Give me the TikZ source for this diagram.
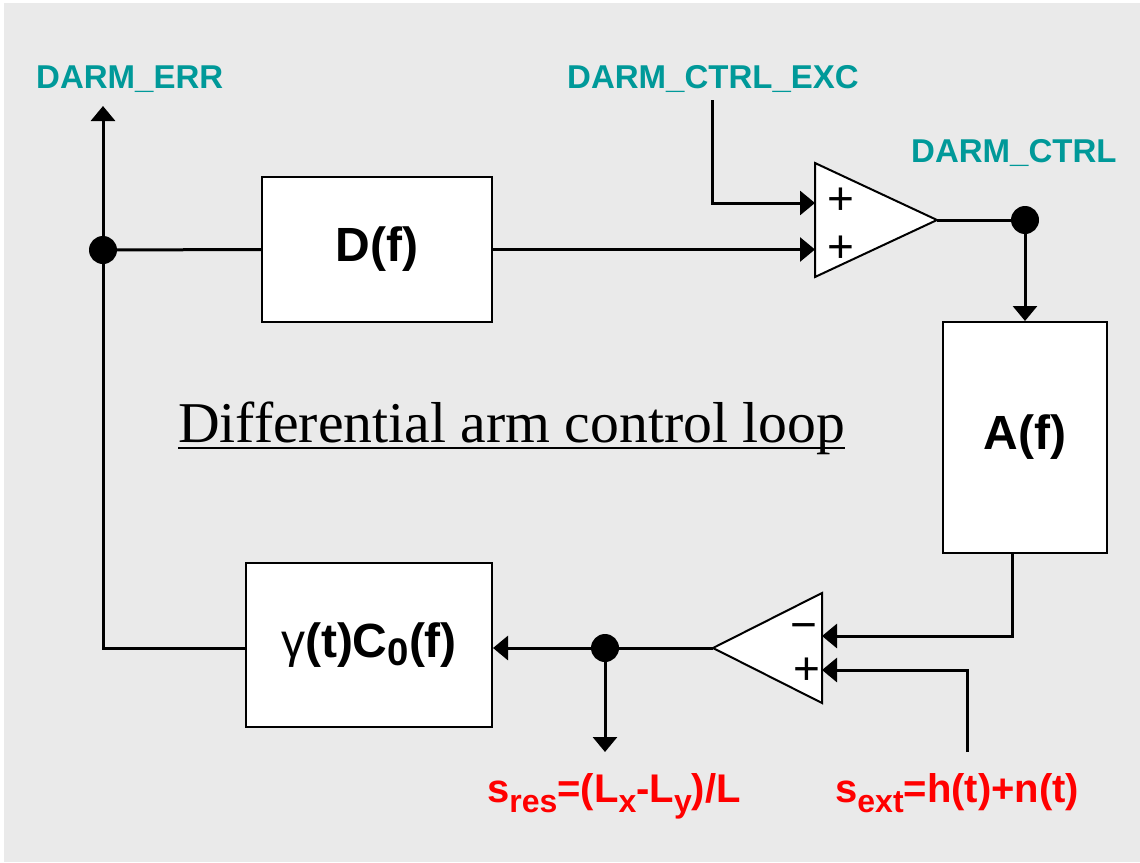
\documentclass[tikz,border=0pt]{standalone}
\usepackage{fontspec}
\usepackage{graphicx}
\setmainfont{Liberation Serif}
\setsansfont{Liberation Sans}
\usetikzlibrary{arrows.meta,shapes.geometric}
\definecolor{darmteal}{RGB}{0,153,153}
\definecolor{bggray}{RGB}{234,234,234}
\newcommand{\lowsub}[2][0.25em]{\raisebox{-#1}{\scalebox{0.8}{#2}}}

\begin{document}
\begin{tikzpicture}[
        x=1pt, y=-1pt,
        block/.style={
            rectangle,
            draw,
            line width=2pt,
            fill=white,
            inner sep=0pt,
            font=\sffamily\bfseries\fontsize{48}{56}\selectfont
        },
        summer/.style={
            isosceles triangle,
            isosceles triangle stretches,
            draw,
            line width=2pt,
            fill=white,
            inner sep=0pt,
            outer sep=0pt
        },
        arrow/.style={
            -{Triangle[length=15pt,width=24pt]},
            line width=3pt
        },
        wire/.style={
            line width=3pt
        },
        dot/.style={circle, fill=black, inner sep=0pt, minimum size=28pt},
        signal/.style={inner sep=0pt, text=darmteal, font=\sffamily\bfseries\fontsize{33}{40}\selectfont},
        strain/.style={inner sep=0pt, text=red, font=\sffamily\bfseries\fontsize{40}{48}\selectfont},
        sign/.style={inner sep=0pt, font=\sffamily\fontsize{46}{52}\selectfont}
    ]

        \useasboundingbox (0,0) rectangle (1140,862);
        \fill[bggray] (4,3) rectangle (1140,862);

        \node[block, minimum width=230pt, minimum height=145pt] (dblk) at (377,249.5) {D(f)};
        \node[block, minimum width=164pt, minimum height=231pt] (ablk) at (1025,437.5) {A(f)};
        \node[block, minimum width=246pt, minimum height=164pt] (cblk) at (369,645) {{\mdseries γ}(t)C\lowsub[0.16em]{0}(f)};

        \node[summer, minimum width=114pt, minimum height=122pt, anchor=apex] (sumtop) at (937,220) {};
        \node[summer, minimum width=110pt, minimum height=109pt, rotate=180, anchor=apex] (sumbot) at (713,648) {};
        \node[sign] (plusa) at (841,201) {+};
        \node[sign] (plusb) at (841,249) {+};
        \node[sign] (minusc) at (804,632) {−};
        \node[sign] (plusd) at (807,671) {+};

        \node[signal, anchor=base west] (errlbl) at (36,88) {DARM\_ERR};
        \node[signal, anchor=base west] (exclbl) at (567,88) {DARM\_CTRL\_EXC};
        \node[signal, anchor=base west] (ctrllbl) at (911,162) {DARM\_CTRL};
        \node[strain, anchor=base west] (reslbl) at (487,802) {s\lowsub{res}=(L\lowsub{x}-L\lowsub{y})/L};
        \node[strain, anchor=base west] (extlbl) at (835,802) {s\lowsub{ext}=h(t)+n(t)};

        \node[inner sep=0pt, anchor=base west, font=\fontsize{57.7}{66}\selectfont] (title) at (178,442) {Differential arm control loop};
        \draw[line width=2.5pt] ([yshift=-6pt]title.base west) -- ([yshift=-6pt]title.base east);

        \node[dot] (errdot) at (103,250) {};
        \node[dot] (ctrldot) at (1025,220) {};
        \node[dot] (resdot) at (605,648) {};
        \coordinate (errend) at (103,106);
        \coordinate (excstart) at (712,100);
        \coordinate (resend) at (605,752);
        \coordinate (extstart) at (967,752);

        \draw[arrow] (errdot.center) -- (errend);
        \draw[wire] (errdot.center) -- (dblk.west);
        \draw[arrow] (dblk.east) -- (dblk.east -| sumtop.lower side);
        \draw[arrow] (excstart) |- ([yshift=17pt]sumtop.lower side);
        \draw[wire] (sumtop.apex) -- (ctrldot.center);
        \draw[arrow] (ctrldot.center) -- (ablk.north);
        \draw[arrow] ([xshift=-13pt]ablk.south) |- ([yshift=12pt]sumbot.lower side);
        \draw[arrow] (extstart) |- ([yshift=-22pt]sumbot.lower side);
        \draw[arrow] (sumbot.apex) -- (sumbot.apex -| cblk.east);
        \draw[arrow] (resdot.center) -- (resend);
        \draw[wire] (sumbot.apex -| cblk.west) -| (errdot.center);

    \end{tikzpicture}
\end{document}
